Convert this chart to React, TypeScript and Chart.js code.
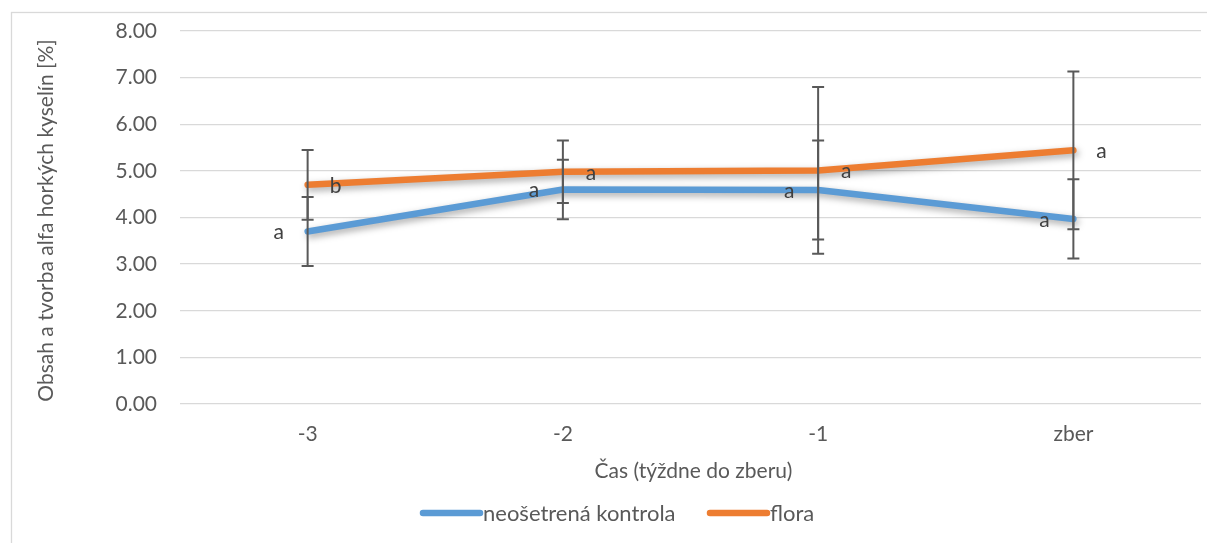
import React, { useEffect, useRef } from "react";
import { Chart, registerables } from "chart.js";

Chart.register(...registerables);

const categories = ["-3", "-2", "-1", "zber"];
const controlValues = [3.7, 4.6, 4.59, 3.97];
const controlErrors = [0.74, 0.64, 1.06, 0.85];
const controlLetters = ["a", "a", "a", "a"];
const floraValues = [4.7, 4.98, 5.01, 5.44];
const floraErrors = [0.75, 0.67, 1.79, 1.69];
const floraLetters = ["b", "a", "a", "a"];
const seriesNames = ["neošetrená kontrola", "flora"];
const yTitle = "Obsah a tvorba alfa horkých kyselín [%]";
const xTitle = "Čas (týždne do zberu)";

const BLUE = "#5B9BD5";
const ORANGE = "#ED7D31";
const FONT = "Lato, 'Open Sans', sans-serif";

export default function App() {
  const ref = useRef<HTMLCanvasElement | null>(null);

  useEffect(() => {
    if (!ref.current) return;

    const decorPlugin = {
      id: "decor",
      beforeDraw(chart: any) {
        const ctx = chart.ctx;
        ctx.save();
        ctx.fillStyle = "#ffffff";
        ctx.fillRect(0, 0, chart.width, chart.height);
        ctx.strokeStyle = "#D9D9D9";
        ctx.lineWidth = 1.3;
        ctx.strokeRect(11.5, 12.5, 1400, 800);
        ctx.restore();
      },
      beforeDatasetDraw(chart: any) {
        const ctx = chart.ctx;
        ctx.save();
        ctx.shadowColor = "rgba(0,0,0,0.35)";
        ctx.shadowBlur = 7;
        ctx.shadowOffsetX = 2;
        ctx.shadowOffsetY = 3;
      },
      afterDatasetDraw(chart: any) {
        chart.ctx.restore();
      },
      afterDatasetsDraw(chart: any) {
        const ctx = chart.ctx;
        const xs = chart.scales.x;
        const ys = chart.scales.y;
        const area = chart.chartArea;
        ctx.save();
        // error bars
        const bars = [
          { vals: controlValues, errs: controlErrors },
          { vals: floraValues, errs: floraErrors },
        ];
        ctx.strokeStyle = "#595959";
        ctx.lineWidth = 2;
        bars.forEach((s) => {
          s.vals.forEach((v, i) => {
            const x = xs.getPixelForValue(i);
            const yt = ys.getPixelForValue(v + s.errs[i]);
            const yb = ys.getPixelForValue(v - s.errs[i]);
            ctx.beginPath();
            ctx.moveTo(x, yt);
            ctx.lineTo(x, yb);
            ctx.moveTo(x - 6, yt);
            ctx.lineTo(x + 6, yt);
            ctx.moveTo(x - 6, yb);
            ctx.lineTo(x + 6, yb);
            ctx.stroke();
          });
        });
        // letters
        ctx.fillStyle = "#404040";
        ctx.font = `21px ${FONT}`;
        ctx.textAlign = "center";
        ctx.textBaseline = "middle";
        controlValues.forEach((v, i) => {
          ctx.fillText(controlLetters[i], xs.getPixelForValue(i) - 29, ys.getPixelForValue(v) + 1);
        });
        floraValues.forEach((v, i) => {
          ctx.fillText(floraLetters[i], xs.getPixelForValue(i) + 28, ys.getPixelForValue(v) + 1);
        });
        // axis titles
        ctx.fillStyle = "#595959";
        ctx.font = `21px ${FONT}`;
        ctx.save();
        ctx.translate(46, (area.top + area.bottom) / 2 + 3);
        ctx.rotate(-Math.PI / 2);
        ctx.fillText(yTitle, 0, 0);
        ctx.restore();
        ctx.fillText(xTitle, (area.left + area.right) / 2 + 3, 471);
        // legend
        const items = [
          { name: seriesNames[0], color: BLUE, x0: 423, x1: 480, tx: 483 },
          { name: seriesNames[1], color: ORANGE, x0: 710, x1: 767, tx: 770 },
        ];
        ctx.textAlign = "left";
        ctx.font = `22px ${FONT}`;
        items.forEach((it) => {
          ctx.strokeStyle = it.color;
          ctx.lineWidth = 6.5;
          ctx.lineCap = "round";
          ctx.beginPath();
          ctx.moveTo(it.x0, 513);
          ctx.lineTo(it.x1, 513);
          ctx.stroke();
          ctx.fillStyle = "#595959";
          ctx.fillText(it.name, it.tx, 514);
        });
        ctx.restore();
      },
    };

    const chart = new Chart(ref.current, {
      type: "line",
      data: {
        labels: categories,
        datasets: [
          {
            label: seriesNames[0],
            data: controlValues,
            borderColor: BLUE,
            backgroundColor: BLUE,
            borderWidth: 6.5,
            borderCapStyle: "round",
            borderJoinStyle: "round",
            pointRadius: 0,
            tension: 0,
          },
          {
            label: seriesNames[1],
            data: floraValues,
            borderColor: ORANGE,
            backgroundColor: ORANGE,
            borderWidth: 6.5,
            borderCapStyle: "round",
            borderJoinStyle: "round",
            pointRadius: 0,
            tension: 0,
          },
        ],
      },
      options: {
        animation: false,
        responsive: false,
        devicePixelRatio: 1,
        layout: { padding: { left: 0, top: 31, right: 6, bottom: 0 } },
        plugins: {
          legend: { display: false },
          tooltip: { enabled: false },
        },
        scales: {
          x: {
            offset: true,
            grid: { display: false, drawTicks: false },
            border: { display: false },
            ticks: {
              color: "#595959",
              font: { family: FONT, size: 21 },
              padding: 18,
            },
            afterFit(scale: any) {
              scale.height = 139;
            },
          },
          y: {
            min: 0,
            max: 8,
            grid: { color: "#D9D9D9", lineWidth: 1.3, drawTicks: false },
            border: { display: false },
            ticks: {
              stepSize: 1,
              color: "#595959",
              font: { family: FONT, size: 21 },
              padding: 23,
              callback: (v: any) => Number(v).toFixed(2),
            },
            afterFit(scale: any) {
              scale.width = 180;
              scale.paddingTop = 0;
              scale.paddingBottom = 0;
            },
          },
        },
      },
      plugins: [decorPlugin],
    } as any);

    return () => chart.destroy();
  }, []);

  return (
    <div style={{ position: "fixed", left: 0, top: 0, width: 1207, height: 543 }}>
      <canvas ref={ref} width={1207} height={543} style={{ display: "block" }} />
    </div>
  );
}
